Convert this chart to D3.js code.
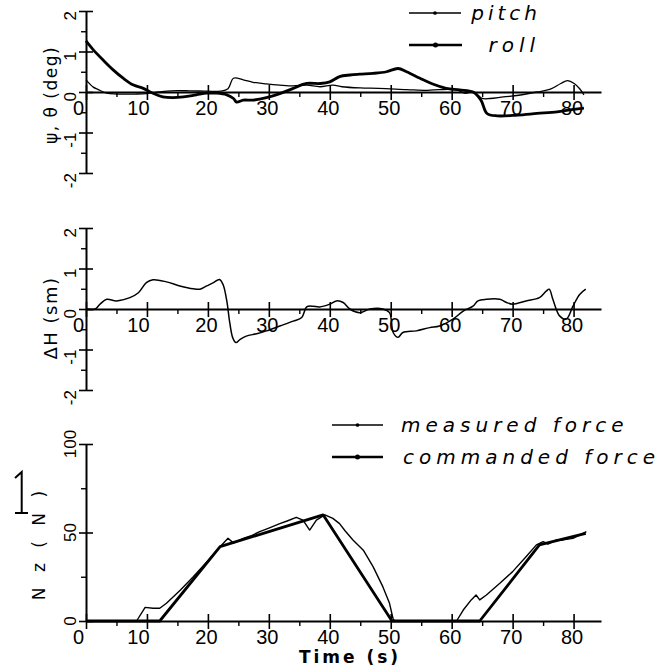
<!DOCTYPE html>
<html>
<head>
<meta charset="utf-8">
<script src="https://cdn.jsdelivr.net/npm/d3@7"></script>
<style>
  body { margin: 0; background: #fff; }
  svg { display: block; }
  .tick-label { font-family: "Liberation Sans", sans-serif; fill: #000; }
  .legend-text { font-family: "DejaVu Sans", sans-serif; font-style: italic; fill: #000; }
  .axis-title { font-family: "DejaVu Sans", sans-serif; fill: #000; }
</style>
</head>
<body>
<div id="chart"></div>
<script>
// time axis ticks
const timeTicks = [0, 10, 20, 30, 40, 50, 60, 70, 80];
const timeMinor = [5, 15, 25, 35, 45, 55, 65, 75];

// attitude panel (deg)
const attTicks = [-2, -1, 0, 1, 2];
const attMinor = [-1.5, -0.5, 0.5, 1.5];
const pitchT = [0, 1.2, 2, 3.4, 5, 8, 10, 12, 14, 17, 20, 22, 23.3, 24.2, 25.8, 27.4, 29.6, 31.8, 34, 36.2, 38.4, 40.5, 42, 45, 48, 52.6, 56, 58, 60.9, 62.1, 63.6, 65, 66.3, 68.5, 71, 74, 76.2, 77.9, 79, 80.1, 81, 81.7];
const pitch = [0.3, 0.12, 0.06, -0.03, -0.05, -0.05, -0.04, 0.0, 0.03, 0.03, 0.02, 0.02, 0.08, 0.34, 0.3, 0.24, 0.2, 0.17, 0.15, 0.17, 0.13, 0.17, 0.13, 0.1, 0.09, 0.06, 0.04, 0.06, 0.05, -0.03, 0.0, -0.16, -0.16, -0.12, -0.08, 0.0, 0.07, 0.21, 0.28, 0.21, 0.08, -0.07];
const rollT = [0, 1.2, 2.8, 4.5, 6.1, 7.8, 9.4, 11, 12.6, 14.2, 16, 18.1, 19.8, 21.4, 23.1, 24.2, 24.7, 25.8, 27.4, 29.6, 31.8, 34, 36.2, 38.4, 40, 41.6, 43.3, 44.9, 47.1, 49.3, 51.2, 52.6, 54.8, 57, 59.1, 61.3, 63.5, 64.8, 65.8, 67.5, 70.8, 74, 77.3, 79.5, 81.7];
const roll = [1.26, 1.04, 0.79, 0.54, 0.34, 0.17, 0.09, -0.03, -0.12, -0.14, -0.12, -0.07, -0.03, -0.03, -0.07, -0.16, -0.25, -0.2, -0.2, -0.14, -0.04, 0.09, 0.21, 0.21, 0.25, 0.38, 0.42, 0.44, 0.46, 0.5, 0.58, 0.5, 0.34, 0.19, 0.09, 0.05, 0, -0.2, -0.53, -0.59, -0.57, -0.53, -0.49, -0.44, -0.4];

// altitude deviation panel
const dhTicks = [-2, -1, 0, 1, 2];
const dhMinor = [-1.5, -0.5, 0.5, 1.5];
const dhT = [0, 1.5, 2.3, 3.4, 5, 7.2, 8.6, 9.9, 11, 13.2, 15.4, 17.6, 18.7, 19.8, 20.9, 21.9, 22.5, 23.1, 23.6, 24.1, 24.6, 25.3, 26.3, 28, 29.6, 31.8, 34, 35.4, 36.2, 37.2, 38.3, 40, 41.1, 42.2, 43.3, 44.9, 46.6, 48.7, 49.8, 50.4, 51.2, 52, 54.2, 56.4, 58, 60.2, 61.9, 63.5, 64.3, 65.7, 67.9, 69, 70, 72.2, 74.4, 75.5, 76, 76.6, 77.7, 78.8, 79.9, 81, 82];
const dh = [0, 0, 0.12, 0.24, 0.2, 0.28, 0.4, 0.65, 0.72, 0.67, 0.57, 0.5, 0.49, 0.57, 0.65, 0.73, 0.6, 0.2, -0.35, -0.72, -0.83, -0.75, -0.67, -0.61, -0.54, -0.42, -0.3, -0.21, 0.05, 0.07, 0.05, 0.12, 0.2, 0.16, 0, -0.09, 0, 0, -0.09, -0.58, -0.7, -0.58, -0.54, -0.46, -0.42, -0.25, -0.05, 0.07, 0.2, 0.24, 0.24, 0.16, 0.12, 0.2, 0.28, 0.44, 0.49, 0.24, -0.17, -0.25, 0.07, 0.36, 0.49];

// force panel (N)
const forceTicks = [0, 50, 100];
const forceMinor = [25, 75];
const cmdT = [0, 12.1, 22, 38.9, 50.2, 64.6, 74.4, 82];
const cmd = [0, 0, 42, 60, 0, 0, 43, 49.5];
const measT = [0, 8.3, 9.7, 11, 12.1, 13.2, 15.5, 17.6, 20, 22, 23.3, 24.2, 25.8, 27, 28.5, 30, 31.8, 33, 34.5, 35.6, 36.7, 37.8, 39.2, 40.5, 41.6, 42.5, 43.8, 45.5, 47.1, 48.7, 49.8, 50.4, 50.7, 60.8, 61.9, 63.2, 64, 64.6, 65.7, 67.9, 70, 72.2, 73.9, 75, 75.8, 77.2, 78.3, 79.9, 82.1];
const meas = [0, 0, 7.7, 7.2, 7.2, 10, 17.5, 25, 34, 42, 46.7, 44, 46.7, 48, 50.5, 52.5, 55, 56.5, 58.6, 57, 51.4, 57, 60, 58, 55, 51, 45.8, 40, 30.7, 19.4, 10, 1, 0, 0, 6.2, 11.9, 14.7, 11.9, 14.7, 21.3, 27.9, 36.3, 43, 44.8, 43.5, 45.8, 45.8, 46.7, 50.5];

const W = 662, H = 669;
const svg = d3.select("#chart").append("svg")
    .attr("width", W)
    .attr("height", H);

const x = d3.scaleLinear().domain([0, 84.5]).range([86, 601]);

function series(ts, vs) {
    return ts.map((t, i) => ({ t: t, v: vs[i] }));
}

function drawPanel(cfg) {
    const y = d3.scaleLinear().domain(cfg.domain).range(cfg.range);
    const g = svg.append("g");
    const yBase = y(cfg.xAxisAt);

    // x axis: major ticks cross the line, minor ticks hang below
    const xAx = g.append("g")
        .attr("transform", `translate(0,${yBase})`)
        .call(d3.axisBottom(x).tickValues(timeTicks).tickSize(8).tickSizeOuter(0).tickPadding(1).tickFormat(d3.format("d")));
    xAx.select(".domain").attr("stroke-width", 2);
    xAx.selectAll(".tick line").attr("y1", -7).attr("stroke-width", 1.6);
    xAx.selectAll(".tick text")
        .attr("class", "tick-label")
        .style("font-size", "20px")
        .attr("font-family", null)
        .attr("dx", d => d === 0 ? -8 : (d === 10 ? -9 : -2));
    g.append("g")
        .attr("transform", `translate(0,${yBase})`)
        .call(d3.axisBottom(x).tickValues(timeMinor).tickSize(5).tickSizeOuter(0).tickFormat(""))
        .call(a => a.select(".domain").remove())
        .selectAll("line").attr("stroke-width", 1.4);

    // y axis
    const yAx = g.append("g")
        .attr("transform", `translate(${x(0)},0)`)
        .call(d3.axisLeft(y).tickValues(cfg.ticks).tickSize(7).tickSizeOuter(0).tickFormat(""));
    yAx.select(".domain").attr("stroke-width", 2);
    yAx.selectAll(".tick line").attr("x1", 7).attr("stroke-width", 1.6);
    g.append("g")
        .attr("transform", `translate(${x(0)},0)`)
        .call(d3.axisLeft(y).tickValues(cfg.minor).tickSize(5).tickSizeOuter(0).tickFormat(""))
        .call(a => a.select(".domain").remove())
        .selectAll("line").attr("stroke-width", 1.4);

    g.selectAll(".ylab")
        .data(cfg.ticks)
        .join("text")
        .attr("class", "tick-label")
        .style("font-size", "17px")
        .attr("text-anchor", cfg.labelAnchor)
        .attr("transform", d => `translate(76,${y(d)}) rotate(-90)`)
        .text(d => d);

    g.append("text")
        .attr("class", "axis-title")
        .style("font-size", cfg.titleSize + "px")
        .style("letter-spacing", cfg.titleSpacing + "px")
        .attr("text-anchor", "middle")
        .attr("transform", `translate(${cfg.titleX},${cfg.titleY}) rotate(-90)`)
        .text(cfg.title);

    cfg.lines.forEach(l => {
        g.append("path")
            .datum(series(l.t, l.v))
            .attr("fill", "none")
            .attr("stroke", "#000")
            .attr("stroke-width", l.width)
            .attr("stroke-linejoin", "round")
            .attr("d", d3.line().x(d => x(d.t)).y(d => y(d.v)).curve(l.curve));
    });
    return { g, y };
}

function legendItem(x1, x2, yPos, width, label, tx, anchor, spacing) {
    svg.append("line")
        .attr("x1", x1).attr("x2", x2)
        .attr("y1", yPos).attr("y2", yPos)
        .attr("stroke", "#000")
        .attr("stroke-width", width);
    svg.append("circle")
        .attr("cx", (x1 + x2) / 2).attr("cy", yPos)
        .attr("r", width / 2 + 1.2)
        .attr("fill", "#000");
    svg.append("text")
        .attr("class", "legend-text")
        .style("font-size", "20px")
        .style("letter-spacing", spacing + "px")
        .attr("text-anchor", anchor)
        .attr("x", tx).attr("y", yPos + 7)
        .text(label);
}

drawPanel({
    domain: [-2, 2], range: [173, 11], xAxisAt: 0,
    ticks: attTicks, minor: attMinor, labelAnchor: "end",
    title: "\u03c8, \u03b8 (deg)", titleX: 57, titleY: 95, titleSize: 17, titleSpacing: 1.5,
    lines: [
        { t: pitchT, v: pitch, width: 1.3, curve: d3.curveCatmullRom },
        { t: rollT, v: roll, width: 2.8, curve: d3.curveCatmullRom }
    ]
});

drawPanel({
    domain: [-2, 2], range: [390, 228], xAxisAt: 0,
    ticks: dhTicks, minor: dhMinor, labelAnchor: "end",
    title: "\u0394H  (sm)", titleX: 57, titleY: 318, titleSize: 18, titleSpacing: 1.5,
    lines: [
        { t: dhT, v: dh, width: 1.5, curve: d3.curveCatmullRom }
    ]
});

drawPanel({
    domain: [0, 100], range: [621, 444], xAxisAt: 0,
    ticks: forceTicks, minor: forceMinor, labelAnchor: "middle",
    title: "N z ( N )", titleX: 45, titleY: 543, titleSize: 17, titleSpacing: 5,
    lines: [
        { t: measT, v: meas, width: 1.4, curve: d3.curveLinear },
        { t: cmdT, v: cmd, width: 2.8, curve: d3.curveLinear }
    ]
});

legendItem(409, 461, 13, 1.3, "pitch", 541, "end", 4);
legendItem(409, 462, 45, 2.6, "roll", 540, "end", 5);
legendItem(332, 383, 425, 1.3, "measured force", 401, "start", 5);
legendItem(332, 383, 457, 2.6, "commanded force", 403, "start", 5);

// time title
svg.append("text")
    .attr("class", "axis-title")
    .style("font-size", "17px")
    .style("font-weight", "bold")
    .style("letter-spacing", "3px")
    .attr("text-anchor", "middle")
    .attr("x", 350).attr("y", 663)
    .text("Time (s)");

// stray "1" mark left of the force axis
svg.append("path")
    .attr("d", "M15,478 L21.7,472 L21.7,513 M15,513 L28,513")
    .attr("fill", "none")
    .attr("stroke", "#000")
    .attr("stroke-width", 2);
</script>
</body>
</html>
